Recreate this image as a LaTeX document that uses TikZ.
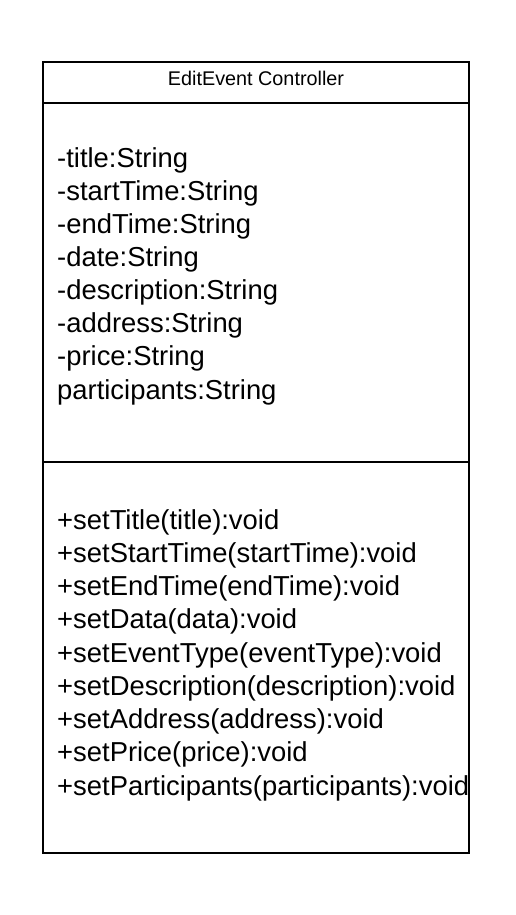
\documentclass[tikz,border=0pt]{standalone}
\usepackage{fontspec}
\setmainfont{Liberation Sans}
\begin{document}
\begin{tikzpicture}[x=1pt,y=-1pt,
  boxline/.style={draw=black,line width=1.6pt},
  member/.style={anchor=base west,inner sep=0pt,font=\fontsize{27.4}{33}\selectfont},
  headtext/.style={anchor=base,inner sep=0pt,font=\fontsize{19.8}{24}\selectfont}]
\fill[white] (0,0) rectangle (516,915);
\useasboundingbox (0,0) rectangle (516,915);
\draw[boxline] (43,62) rectangle (469,853);
\draw[boxline] (43,103) -- (469,103);
\draw[boxline] (43,462) -- (469,462);
\node[headtext] (head) at (256,86) {EditEvent Controller};
\foreach \t [count=\i from 0] in {-title:String,-startTime:String,-endTime:String,-date:String,-description:String,-address:String,-price:String,participants:String}
  \node[member] (a\i) at (57,167+\i*33.15) {\t};
\foreach \t [count=\i from 0] in {+setTitle(title):void,+setStartTime(startTime):void,+setEndTime(endTime):void,+setData(data):void,+setEventType(eventType):void,+setDescription(description):void,+setAddress(address):void,+setPrice(price):void,+setParticipants(participants):void}
  \node[member] (m\i) at (57,529+\i*33.25) {\t};
\end{tikzpicture}
\end{document}
